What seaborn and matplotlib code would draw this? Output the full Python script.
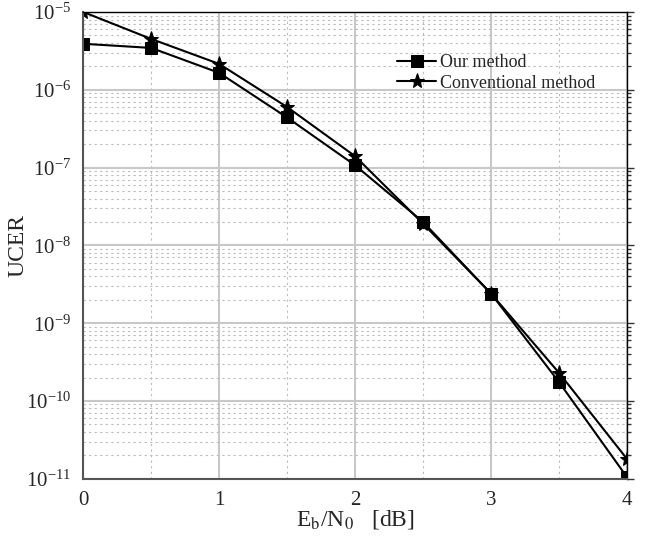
import numpy as np
import pandas as pd
import matplotlib
matplotlib.use("Agg")
import matplotlib.pyplot as plt
import seaborn as sns
from matplotlib.ticker import LogLocator, MultipleLocator, FuncFormatter

# --- Data ---
ebn0 = [0, 0.5, 1, 1.5, 2, 2.5, 3, 3.5, 4]
our_method = [3.9e-6, 3.45e-6, 1.65e-6, 4.4e-7, 1.07e-7, 2.0e-8, 2.4e-9, 1.75e-10, 1.05e-11]
conventional = [1.0e-5, 4.5e-6, 2.15e-6, 6.0e-7, 1.4e-7, 1.9e-8, 2.4e-9, 2.3e-10, 1.8e-11]

df = pd.DataFrame({'ebn0': ebn0 * 2,
                   'ucer': our_method + conventional,
                   'method': ['Our method'] * len(ebn0) + ['Conventional method'] * len(ebn0)})

sns.set_style('white')
plt.rcParams['font.family'] = ['Liberation Serif', 'DejaVu Serif']
plt.rcParams['mathtext.fontset'] = 'stix'

# --- Plot ---
fig = plt.figure(figsize=(6.45, 5.44), dpi=100)
ax = fig.add_axes([0.129, 0.12, 0.843, 0.858])

sns.lineplot(data=df, x='ebn0', y='ucer', hue='method', style='method',
             markers={'Our method': 's', 'Conventional method': '*'},
             dashes=False, palette=['black', 'black'], markersize=8,
             linewidth=1.5, markeredgecolor='black', ax=ax)

# stars look a bit small next to the squares
for ln in ax.lines:
    if ln.get_marker() == '*':
        ln.set_markersize(11)

ax.set_yscale('log')
ax.set_xlim(0, 4)
ax.set_ylim(1e-11, 1e-5)
ax.xaxis.set_major_locator(MultipleLocator(1))
ax.xaxis.set_minor_locator(MultipleLocator(0.5))
ax.yaxis.set_major_locator(LogLocator(base=10, numticks=10))
ax.yaxis.set_minor_locator(LogLocator(base=10, subs=np.arange(2, 10), numticks=20))
ax.yaxis.set_major_formatter(FuncFormatter(
    lambda v, pos: r'10$^{\mathregular{%d}}$' % round(np.log10(v))))

ax.grid(which='major', color='#c8c8c8', linewidth=1.5, linestyle='-')
ax.grid(which='minor', axis='y', color='#bbbbbb', linewidth=0.8, linestyle=(0, (2, 3)))
ax.grid(which='minor', axis='x', color='#bbbbbb', linewidth=0.8, linestyle=(0, (2, 3)))

ax.tick_params(which='major', direction='out', length=5, width=1, labelsize=15, color='#333333')
ax.tick_params(which='minor', direction='out', length=3, width=1, color='#333333')
ax.tick_params(axis='y', which='both', right=True)

for side in ['left', 'bottom']:
    ax.spines[side].set_color('#555555')
    ax.spines[side].set_linewidth(1.5)
for side in ['top', 'right']:
    ax.spines[side].set_color('black')
    ax.spines[side].set_linewidth(1)

ax.set_xlabel(r'E$_\mathrm{b}$/N$_\mathrm{0}$   [dB]', fontsize=17, labelpad=-1)
ax.set_ylabel('UCER', fontsize=17)
ax.yaxis.set_label_coords(-0.1, 0.5)

ax.legend(title=None, frameon=False, fontsize=13, loc='upper right',
          bbox_to_anchor=(0.955, 0.925), handlelength=2.2, borderaxespad=0,
          labelspacing=0.2, handletextpad=0.2)

fig.savefig('out.png', dpi=100)
